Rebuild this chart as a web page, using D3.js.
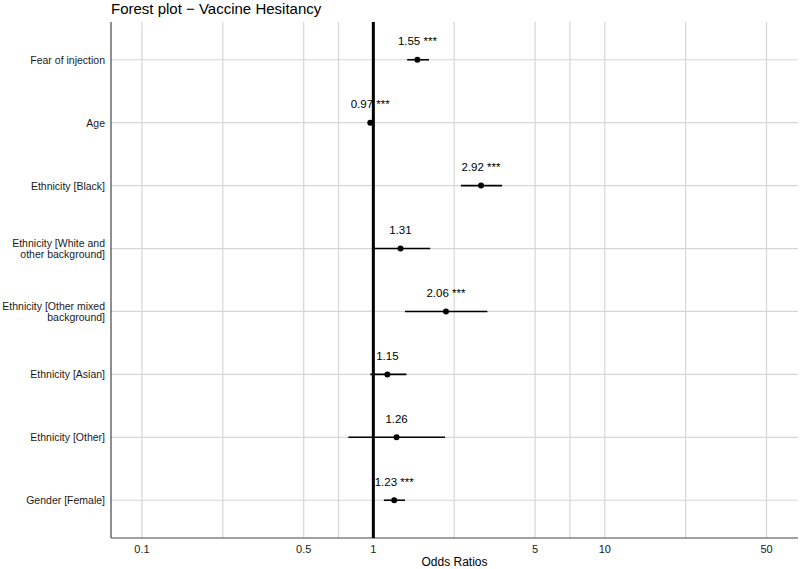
<!DOCTYPE html>
<html>
<head>
<meta charset="utf-8">
<title>Forest plot</title>
<script src="https://d3js.org/d3.v7.min.js"></script>
<style>
  body { margin: 0; background: #fff; }
  svg { font-family: "Liberation Sans", Arial, Helvetica, sans-serif; display: block; }
  .grid line { stroke: #d6d6d6; stroke-width: 1.2; }
  .ylab { font-size: 10.5px; fill: #1a1a1a; }
  .xlab { font-size: 11px; fill: #1a1a1a; }
  .est { font-size: 11.5px; fill: #000; }
</style>
</head>
<body>
<svg width="800" height="569"></svg>
<script>
// terms, top to bottom
var terms = ["Fear of injection", "Age", "Ethnicity [Black]",
  "Ethnicity [White and\nother background]", "Ethnicity [Other mixed\nbackground]",
  "Ethnicity [Asian]", "Ethnicity [Other]", "Gender [Female]"];
// odds ratios and confidence intervals
var estimates = [1.55, 0.97, 2.92, 1.31, 2.06, 1.15, 1.26, 1.23];
var ciLow  = [1.40, 0.96, 2.39, 1.00, 1.37, 0.97, 0.78, 1.11];
var ciHigh = [1.74, 0.98, 3.60, 1.76, 3.11, 1.39, 2.04, 1.37];
var stars  = ["***", "***", "***", "", "***", "", "", "***"];
// axis ticks
var xTicks = [0.1, 0.5, 1, 5, 10, 50];
var xDomain = [0.0735, 68.4];

var svg = d3.select("svg");
var pLeft = 111, pRight = 798, pTop = 22, pBottom = 538;

var x = d3.scaleLog().domain(xDomain).range([pLeft, pRight]);
var y = d3.scalePoint().domain(terms).range([pTop, pBottom]).padding(0.6);

// minor grid in between the major breaks (log midpoints)
var minor = d3.pairs(xTicks).map(function(p) { return Math.sqrt(p[0] * p[1]); });

var grid = svg.append("g").attr("class", "grid");
grid.selectAll(".hg").data(terms).enter().append("line")
  .attr("x1", pLeft).attr("x2", pRight)
  .attr("y1", function(d) { return y(d); }).attr("y2", function(d) { return y(d); });
grid.selectAll(".vg").data(xTicks.concat(minor)).enter().append("line")
  .attr("y1", pTop).attr("y2", pBottom)
  .attr("x1", function(d) { return x(d); }).attr("x2", function(d) { return x(d); });

// axis lines
svg.append("line").attr("x1", pLeft).attr("x2", pLeft).attr("y1", pTop).attr("y2", pBottom)
  .attr("stroke", "#444").attr("stroke-width", 1.2);
svg.append("line").attr("x1", pLeft).attr("x2", pRight).attr("y1", pBottom).attr("y2", pBottom)
  .attr("stroke", "#444").attr("stroke-width", 1.2);

// reference line at OR = 1
svg.append("line").attr("x1", x(1)).attr("x2", x(1)).attr("y1", pTop).attr("y2", pBottom)
  .attr("stroke", "#000").attr("stroke-width", 3);

// y labels (may wrap onto two lines)
var yl = svg.append("g").selectAll("text").data(terms).enter().append("text")
  .attr("class", "ylab")
  .attr("text-anchor", "end");
yl.each(function(d) {
  var lines = d.split("\n");
  var t = d3.select(this);
  var lh = 11.5;
  var y0 = y(d) + 4 - (lines.length - 1) * lh / 2;
  lines.forEach(function(l, i) {
    t.append("tspan").attr("x", 105).attr("y", y0 + i * lh).text(l);
  });
});

// x tick labels
svg.append("g").selectAll("text").data(xTicks).enter().append("text")
  .attr("class", "xlab")
  .attr("text-anchor", "middle")
  .attr("x", function(d) { return x(d); })
  .attr("y", 553)
  .text(function(d) { return d; });

svg.append("text").attr("x", (pLeft + pRight) / 2).attr("y", 565.5)
  .attr("text-anchor", "middle").attr("font-size", "12px").text("Odds Ratios");

svg.append("text").attr("x", pLeft).attr("y", 13.5)
  .attr("font-size", "15px").text("Forest plot \u2212 Vaccine Hesitancy");

// CIs, points, value labels
var rows = svg.append("g").selectAll("g").data(terms).enter().append("g");
rows.append("line")
  .attr("x1", function(d, i) { return x(ciLow[i]); })
  .attr("x2", function(d, i) { return x(ciHigh[i]); })
  .attr("y1", function(d) { return y(d); })
  .attr("y2", function(d) { return y(d); })
  .attr("stroke", "#000").attr("stroke-width", 1.6);
rows.append("circle")
  .attr("cx", function(d, i) { return x(estimates[i]); })
  .attr("cy", function(d) { return y(d); })
  .attr("r", 3).attr("fill", "#000");
rows.append("text")
  .attr("class", "est")
  .attr("text-anchor", "middle")
  .attr("x", function(d, i) { return x(estimates[i]); })
  .attr("y", function(d) { return y(d) - 14.5; })
  .text(function(d, i) { return estimates[i].toFixed(2) + (stars[i] ? " " + stars[i] : ""); });
</script>
</body>
</html>
